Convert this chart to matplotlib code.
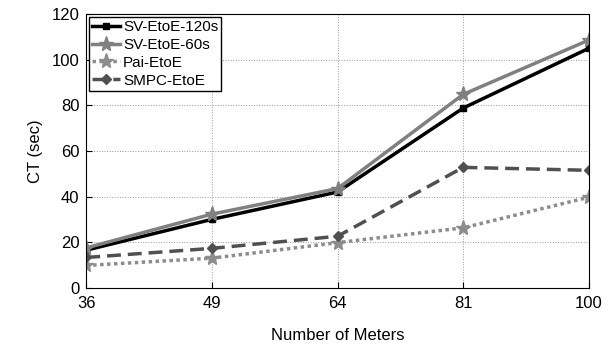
import numpy as np
import matplotlib.pyplot as plt

plt.rcParams['font.family'] = ['Liberation Sans', 'DejaVu Sans']

# data
meters = ['36', '49', '64', '81', '100']
sv_120 = [16.5, 30.0, 42.0, 78.8, 105.0]
sv_60 = [17.5, 32.3, 43.5, 84.8, 108.6]
pai = [9.8, 13.0, 19.8, 26.3, 39.7]
smpc = [13.3, 17.3, 22.6, 52.8, 51.5]

x = np.arange(len(meters))

fig = plt.figure(figsize=(6.16, 3.51), dpi=100)
ax = fig.add_axes([0.14, 0.18, 0.816, 0.78])

ax.plot(x, sv_120, color='black', lw=2.5, marker='s', ms=5, label='SV-EtoE-120s')
ax.plot(x, sv_60, color='#808080', lw=2.5, marker='*', ms=11, label='SV-EtoE-60s')
ax.plot(x, pai, color='#8c8c8c', lw=2.5, ls=(0, (1, 1)), marker='*', ms=11, label='Pai-EtoE')
ax.plot(x, smpc, color='#505050', lw=2.5, ls=(0, (4, 2)), marker='D', ms=5, label='SMPC-EtoE')

ax.set_xlim(0, 4)
ax.set_ylim(0, 120)
ax.set_xticks(x)
ax.set_xticklabels(meters)
ax.set_yticks(range(0, 121, 20))
ax.tick_params(direction='in', labelsize=12, length=4)
ax.tick_params(axis='x', pad=6)
ax.tick_params(axis='y', pad=5)
ax.grid(True, ls=':', lw=0.7, color='#999999')

ax.set_xlabel('Number of Meters', fontsize=12, labelpad=12)
ax.set_ylabel('CT (sec)', fontsize=12, labelpad=6)

leg = ax.legend(loc='upper left', fontsize=11, fancybox=False, framealpha=1,
                edgecolor='black', borderaxespad=0.2, handlelength=1.8,
                handletextpad=0.2, labelspacing=0.25, borderpad=0.2)
leg.get_frame().set_linewidth(1.0)

plt.savefig('out.png', dpi=100)
